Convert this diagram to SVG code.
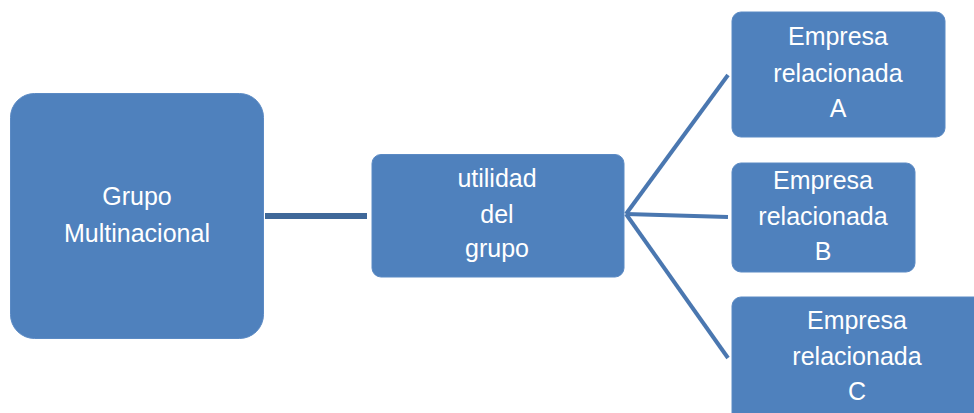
<svg xmlns="http://www.w3.org/2000/svg" width="974" height="413" viewBox="0 0 974 413">
<style>
.box{fill:#4f81bd;stroke:#5b8ac4;stroke-width:1}
.t{font-family:"Liberation Sans",Arial,sans-serif;font-size:25px;fill:#ffffff;text-anchor:middle}
.c{stroke:#4a77b0;stroke-width:4;fill:none}
.c0{stroke:#3f6899;stroke-width:6;fill:none}
</style>
<rect width="974" height="413" fill="#ffffff"/>
<g id="connectors">
<line class="c0" x1="265" y1="216" x2="367" y2="216"/>
<line class="c" x1="626" y1="214" x2="728" y2="75"/>
<line class="c" x1="626" y1="214" x2="728" y2="217"/>
<line class="c" x1="626" y1="214" x2="728" y2="358"/>
</g>
<g id="grupo">
<rect class="box" x="10.5" y="93.5" width="253" height="245" rx="24"/>
<text class="t" x="137" y="205">Grupo</text>
<text class="t" x="137" y="242">Multinacional</text>
</g>
<g id="utilidad">
<rect class="box" x="372" y="154.5" width="252" height="122.5" rx="9"/>
<text class="t" x="497" y="187">utilidad</text>
<text class="t" x="497" y="223">del</text>
<text class="t" x="497" y="257">grupo</text>
</g>
<g id="empresaA">
<rect class="box" x="732" y="12" width="213" height="125" rx="9"/>
<text class="t" x="838" y="45">Empresa</text>
<text class="t" x="838" y="82">relacionada</text>
<text class="t" x="838" y="117">A</text>
</g>
<g id="empresaB">
<rect class="box" x="732" y="163" width="183" height="109" rx="9"/>
<text class="t" x="823" y="189">Empresa</text>
<text class="t" x="823" y="225">relacionada</text>
<text class="t" x="823" y="260">B</text>
</g>
<g id="empresaC">
<rect class="box" x="732" y="297" width="260" height="130" rx="9"/>
<text class="t" x="857" y="329">Empresa</text>
<text class="t" x="857" y="365">relacionada</text>
<text class="t" x="857" y="400">C</text>
</g>
</svg>
